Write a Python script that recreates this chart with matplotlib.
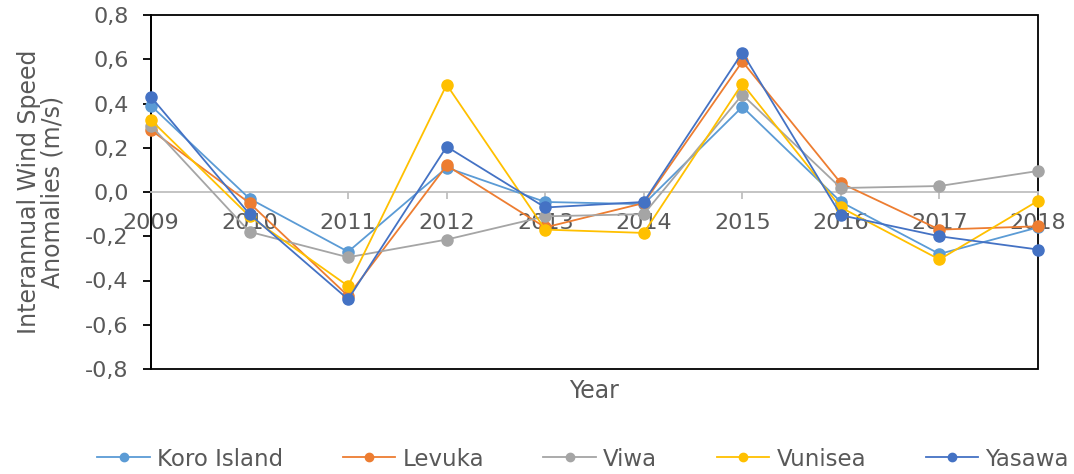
import matplotlib
matplotlib.use('Agg')
import matplotlib.pyplot as plt
from matplotlib.patches import Rectangle
from matplotlib.ticker import FuncFormatter
from matplotlib.lines import Line2D

years = [2009, 2010, 2011, 2012, 2013, 2014, 2015, 2016, 2017, 2018]

koro = [0.39, -0.03, -0.27, 0.11, -0.045, -0.055, 0.385, -0.045, -0.28, -0.16]
levuka = [0.28, -0.05, -0.47, 0.12, -0.16, -0.05, 0.59, 0.04, -0.17, -0.155]
viwa = [0.30, -0.18, -0.295, -0.215, -0.11, -0.10, 0.44, 0.018, 0.027, 0.095]
vunisea = [0.325, -0.11, -0.425, 0.485, -0.17, -0.185, 0.49, -0.07, -0.305, -0.04]
yasawa = [0.43, -0.10, -0.485, 0.205, -0.07, -0.045, 0.63, -0.105, -0.20, -0.26]

series = {
    'Koro Island': (koro, '#5B9BD5'),
    'Levuka': (levuka, '#ED7D31'),
    'Viwa': (viwa, '#A5A5A5'),
    'Vunisea': (vunisea, '#FFC000'),
    'Yasawa': (yasawa, '#4472C4'),
}

txt = '#595959'

fig = plt.figure(figsize=(10.74, 4.74), dpi=100)
ax = fig.add_axes([151 / 1074, 1 - 369 / 474, 887 / 1074, 354 / 474])

handles = []
for name, (vals, col) in series.items():
    ax.plot(years, vals, color=col, lw=1.3, marker='o', ms=8, zorder=3, clip_on=False)
    handles.append(Line2D([], [], color=col, lw=1.3, marker='o', ms=6))

ax.set_xlim(2009, 2018)
ax.set_ylim(-0.8, 0.8)
ax.set_yticks([-0.8, -0.6, -0.4, -0.2, 0.0, 0.2, 0.4, 0.6, 0.8])
ax.yaxis.set_major_formatter(FuncFormatter(lambda v, p: f'{v:.1f}'.replace('.', ',')))
ax.set_xticks(years)

# x axis crosses at zero, excel style
ax.spines['bottom'].set_position(('data', 0))
ax.spines['bottom'].set_color('#BFBFBF')
ax.spines['bottom'].set_linewidth(1.3)
for s in ['top', 'right']:
    ax.spines[s].set_visible(False)
ax.spines['left'].set_color('black')
ax.spines['left'].set_linewidth(1.3)
ax.add_patch(Rectangle((0, 0), 1, 1, transform=ax.transAxes, fill=False,
                       edgecolor='black', lw=1.3, clip_on=False, zorder=1))

ax.tick_params(axis='x', colors='#BFBFBF', labelcolor=txt, labelsize=16,
               length=5, width=1.3, pad=10)
ax.tick_params(axis='y', colors='black', labelcolor=txt, labelsize=16,
               length=6, width=1.3, pad=10)

ax.set_ylabel('Interannual Wind Speed\nAnomalies (m/s)', fontsize=17, color=txt,
              linespacing=1.0)
ax.yaxis.set_label_coords(-0.097, 0.5)
fig.text(594 / 1074, 1 - 391 / 474, 'Year', ha='center', va='center', fontsize=17, color=txt)

fig.legend(handles, list(series.keys()), loc='center', ncol=5,
           bbox_to_anchor=(583 / 1074, 1 - 459 / 474), frameon=False,
           fontsize=16.5, labelcolor=txt, handlelength=2.3, columnspacing=2.6,
           handletextpad=0.3)

fig.savefig('out.png', dpi=100)
